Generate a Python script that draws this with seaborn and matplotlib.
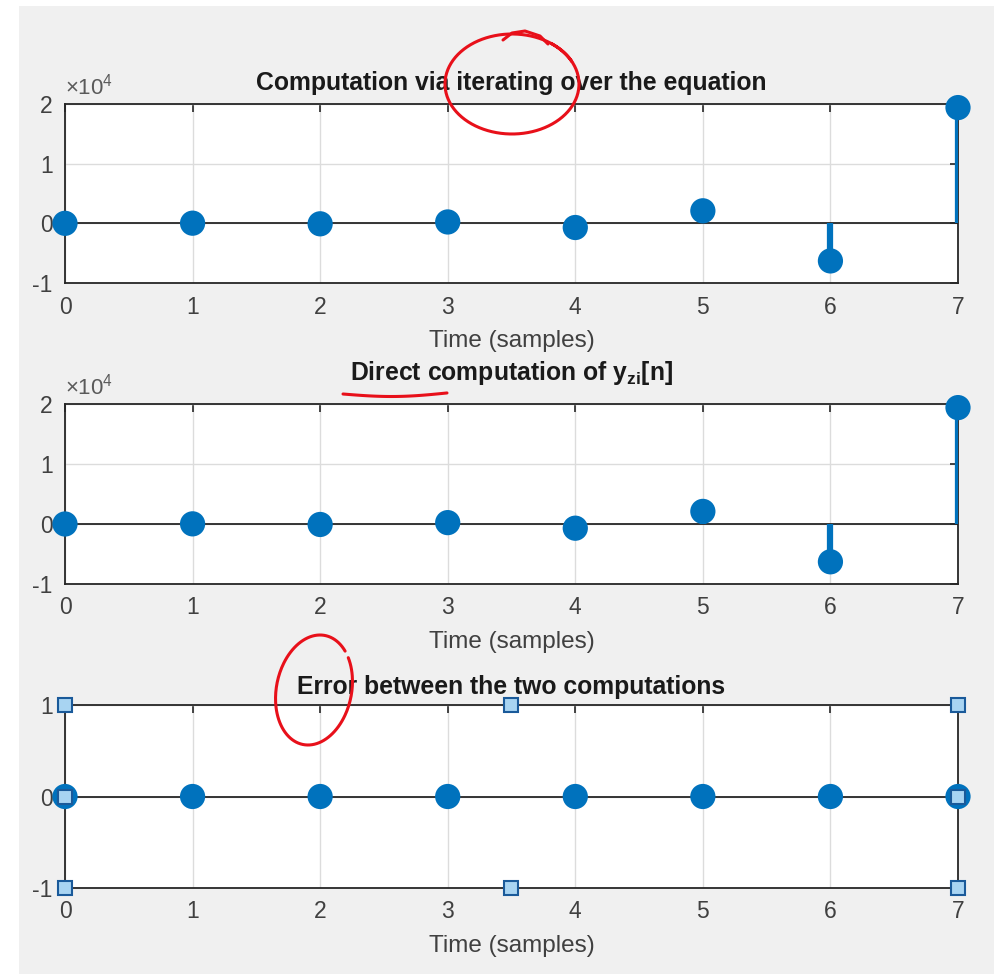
import numpy as np
import pandas as pd
import matplotlib
matplotlib.use("Agg")
import matplotlib.pyplot as plt
from matplotlib.patches import Rectangle
from matplotlib.lines import Line2D
import seaborn as sns

# ---- data ----
samples = [0, 1, 2, 3, 4, 5, 6, 7]
y_iter = [0, 25, -80, 230, -700, 2100, -6300, 19400]
y_direct = [0, 25, -80, 230, -700, 2100, -6300, 19400]
err = [0, 0, 0, 0, 0, 0, 0, 0]
titles = ["Computation via iterating over the equation",
          r"Direct computation of $\mathbf{y}_{\mathbf{zi}}$[n]",
          "Error between the two computations"]
xlabel = "Time (samples)"

sns.set_theme(style="white")
plt.rcParams["font.family"] = ["Liberation Sans", "DejaVu Sans"]
plt.rcParams["axes.unicode_minus"] = False
plt.rcParams["mathtext.fontset"] = "custom"
plt.rcParams["mathtext.rm"] = "Liberation Sans"
plt.rcParams["mathtext.bf"] = "Liberation Sans:bold"

W, H = 995, 974
fig = plt.figure(figsize=(W / 100, H / 100), dpi=100)
fig.patch.set_facecolor("white")
fig.add_artist(Rectangle((19 / W, 0), 1 - 19 / W, 1 - 6 / H,
                         transform=fig.transFigure, facecolor="#f0f0f0",
                         edgecolor="none", zorder=-10))

blue = "#0072BD"
dark = "#262626"
x0, x1 = 65 / W, 958 / W
boxes = [(104, 283), (404, 584), (705, 888)]
series = [y_iter, y_direct, err]
title_pads = [10, 17, 8]

axes = []
for i, ((top, bot), vals) in enumerate(zip(boxes, series)):
    ax = fig.add_axes([x0, 1 - bot / H, x1 - x0, (bot - top) / H])
    axes.append(ax)
    ax.set_facecolor("white")
    df = pd.DataFrame({"n": samples, "v": vals})
    ax.vlines(df["n"], 0, df["v"], color=blue, lw=4.5, zorder=3)
    ax.axhline(0, color=dark, lw=1.3, zorder=2)
    sns.scatterplot(data=df, x="n", y="v", ax=ax, s=330, color=blue,
                    edgecolor="none", zorder=4, clip_on=False, legend=False)
    ax.set_xlim(0, 7)
    ax.set_xticks(samples)
    if i < 2:
        ax.set_ylim(-10000, 20000)
        ax.set_yticks([-10000, 0, 10000, 20000])
        ax.set_yticklabels(["-1", "0", "1", "2"])
        ax.text(0.0, 1.025, r"$\times10^{4}$", transform=ax.transAxes,
                fontsize=16, color="#5a5a5a", ha="left", va="bottom")
    else:
        ax.set_ylim(-1, 1)
        ax.set_yticks([-1, 0, 1])
        ax.set_yticklabels(["-1", "0", "1"])
    ax.grid(True, color="#dcdcdc", lw=1.0, zorder=0)
    ax.tick_params(direction="in", length=6, width=1.2, colors=dark,
                   labelsize=16.5, top=True, right=True, pad=9,
                   labelcolor="#404040")
    for s in ax.spines.values():
        s.set_color(dark)
        s.set_linewidth(1.3)
        s.set_visible(True)
    ax.set_xlabel(xlabel, fontsize=17.5, color="#404040", labelpad=8)
    ax.set_ylabel("")
    ax.set_title(titles[i], fontsize=17.8, fontweight="bold", color="#1a1a1a",
                 pad=title_pads[i])

# selection handles on the error axes
ax = axes[2]
hx = [0, 0.5, 1, 0, 1, 0, 0.5, 1]
hy = [1, 1, 1, 0.5, 0.5, 0, 0, 0]
ax.plot(hx, hy, ls="none", marker="s", ms=10, mfc="#a8d4f2", mec="#1a5a9a",
        mew=1.5, transform=ax.transAxes, clip_on=False, zorder=6)

# red hand-drawn annotations (figure pixel coords)
def fig_line(xs, ys):
    fig.add_artist(Line2D(np.array(xs) / W, 1 - np.array(ys) / H,
                          transform=fig.transFigure, color="#e8101a",
                          lw=2.2, solid_capstyle="round", zorder=20))

t = np.linspace(0.15 * np.pi, 2.3 * np.pi, 200)
fig_line(512 + 67 * np.cos(t), 84 - 50 * np.sin(t))
fig_line([503, 512, 525, 540, 548], [40, 33, 31, 36, 44])
xs = np.linspace(343, 447, 50)
fig_line(xs, 394 + 3 * np.sin((xs - 343) / 104 * np.pi) - (xs - 343) * 0.01)
t2 = np.linspace(0.25 * np.pi, 2.2 * np.pi, 200)
fig_line(314 + 38 * np.cos(t2) + 6 * np.sin(t2), 690 - 55 * np.sin(t2))

fig.savefig("out.png", dpi=100, facecolor=fig.get_facecolor())
